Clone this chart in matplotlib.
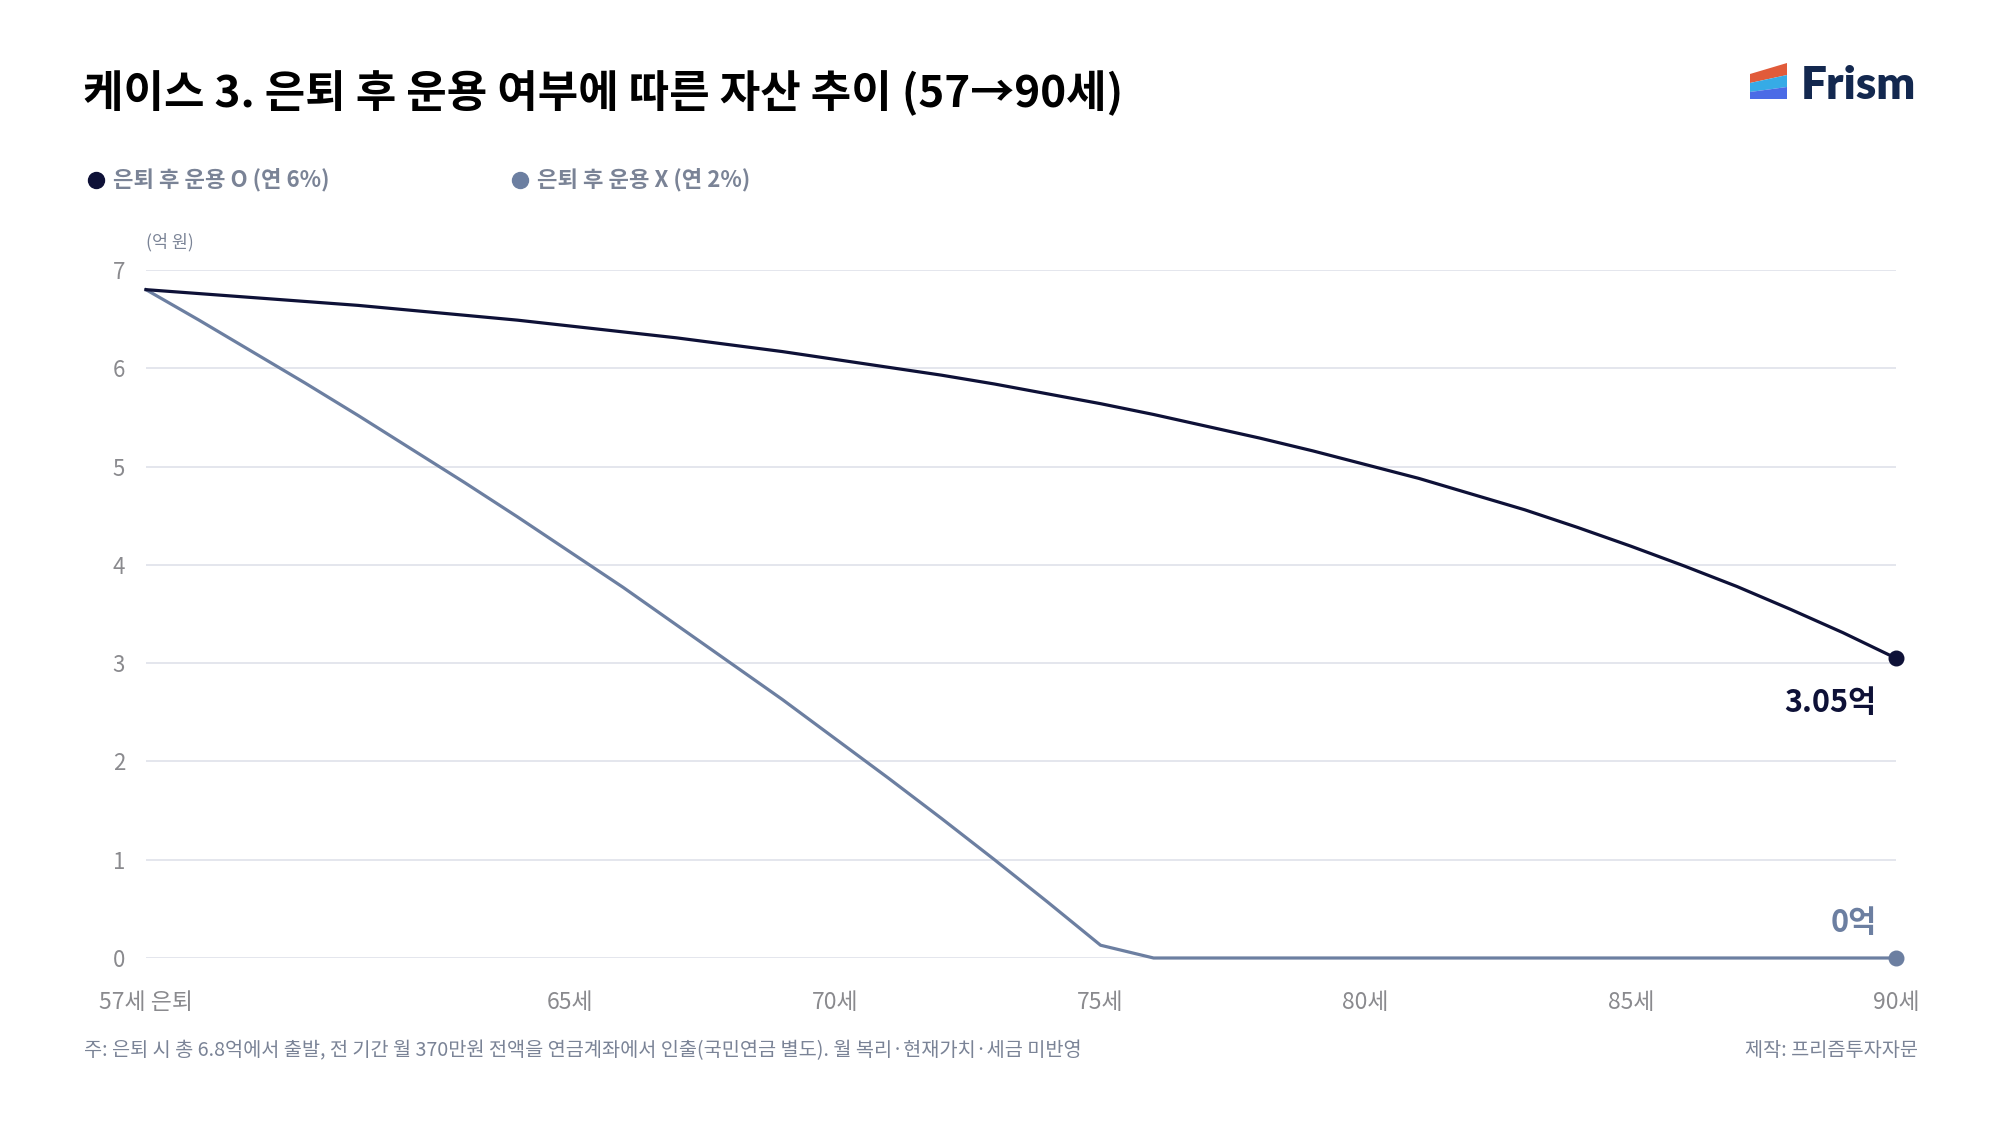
import matplotlib
matplotlib.use("Agg")
import matplotlib.pyplot as plt
from matplotlib.patches import Polygon
from matplotlib.lines import Line2D

plt.rcParams['font.family'] = ['Noto Sans CJK KR', 'DejaVu Sans']

# ---------------- data ----------------
ages = [57, 58, 59, 60, 61, 62, 63, 64, 65, 66, 67, 68, 69, 70, 71, 72, 73,
        74, 75, 76, 77, 78, 79, 80, 81, 82, 83, 84, 85, 86, 87, 88, 89, 90]
invest_o = [6.80, 6.76, 6.72, 6.68, 6.64, 6.59, 6.54, 6.49, 6.43, 6.37, 6.31,
            6.24, 6.17, 6.09, 6.01, 5.93, 5.84, 5.74, 5.64, 5.53, 5.41, 5.29,
            5.16, 5.02, 4.88, 4.72, 4.56, 4.38, 4.19, 3.99, 3.78, 3.55, 3.31, 3.05]
invest_x = [6.80, 6.49, 6.17, 5.85, 5.52, 5.18, 4.84, 4.49, 4.13, 3.77, 3.39,
            3.01, 2.63, 2.23, 1.83, 1.42, 1.00, 0.57, 0.13, 0.00, 0.00, 0.00,
            0.00, 0.00, 0.00, 0.00, 0.00, 0.00, 0.00, 0.00, 0.00, 0.00, 0.00, 0.00]
series_names = ['은퇴 후 운용 O (연 6%)', '은퇴 후 운용 X (연 2%)']
end_labels = ['3.05억', '0억']
xtick_vals = [57, 65, 70, 75, 80, 85, 90]
xtick_labels = ['57세 은퇴', '65세', '70세', '75세', '80세', '85세', '90세']
ytick_vals = [0, 1, 2, 3, 4, 5, 6, 7]

title = '케이스 3. 은퇴 후 운용 여부에 따른 자산 추이 (57→90세)'
unit_label = '(억 원)'
footnote = '주: 은퇴 시 총 6.8억에서 출발, 전 기간 월 370만원 전액을 연금계좌에서 인출(국민연금 별도). 월 복리·현재가치·세금 미반영'
credit = '제작: 프리즘투자자문'

# ---------------- style ----------------
C_DARK = '#0E1137'
C_SLATE = '#6C7FA1'
C_GRID = '#E2E4EC'
C_TICK = '#8A8A8E'
C_LEG = '#7A8396'

W, H = 2000, 1125
fig = plt.figure(figsize=(20, 11.25), dpi=100, facecolor='white')


def fx(x):
    return x / W


def fy(y):
    return 1 - y / H


ax_left, ax_right = 146, 1896
ax_top, ax_bottom = 270, 958
ax = fig.add_axes([fx(ax_left), fy(ax_bottom), (ax_right - ax_left) / W,
                   (ax_bottom - ax_top) / H])
ax.set_xlim(57, 90)
ax.set_ylim(0, 7)
for s in ax.spines.values():
    s.set_visible(False)
ax.set_yticks(ytick_vals)
ax.set_yticklabels([str(v) for v in ytick_vals], fontsize=16, color=C_TICK)
ax.set_xticks(xtick_vals)
ax.set_xticklabels(xtick_labels, fontsize=16.5, color=C_TICK)
ax.tick_params(axis='y', length=0, pad=15)
ax.tick_params(axis='x', length=0, pad=24)
ax.grid(axis='y', color=C_GRID, linewidth=1.3, zorder=0)
ax.grid(axis='x', visible=False)

ax.plot(ages, invest_x, color=C_SLATE, linewidth=2.3, zorder=3, clip_on=False,
        solid_joinstyle='round')
ax.plot(ages, invest_o, color=C_DARK, linewidth=2.3, zorder=4, clip_on=False,
        solid_joinstyle='round')
ax.plot([ages[-1]], [invest_o[-1]], 'o', color=C_DARK, markersize=10.5,
        zorder=5, clip_on=False)
ax.plot([ages[-1]], [invest_x[-1]], 'o', color=C_SLATE, markersize=10.5,
        zorder=5, clip_on=False)

ax.annotate(end_labels[0], xy=(ages[-1], invest_o[-1]), xytext=(-14, -32),
            textcoords='offset points', ha='right', va='center',
            fontsize=22, fontweight='bold', color=C_DARK)
ax.annotate(end_labels[1], xy=(ages[-1], invest_x[-1]), xytext=(-14, 25),
            textcoords='offset points', ha='right', va='center',
            fontsize=22, fontweight='bold', color=C_SLATE)

# title
fig.text(fx(83), fy(93), title, fontsize=31.7, fontweight='bold', color='#000000',
         ha='left', va='center')

# legend
leg_items = [(96, C_DARK, series_names[0]), (520, C_SLATE, series_names[1])]
for xc, col, name in leg_items:
    fig.add_artist(Line2D([fx(xc)], [fy(180)], marker='o', markersize=11.5,
                          color=col, linestyle='none', transform=fig.transFigure))
    fig.text(fx(xc + 17), fy(180), name, fontsize=16, fontweight='bold',
             color=C_LEG, ha='left', va='center')

# unit label
fig.text(fx(146), fy(242), unit_label, fontsize=12.5, color=C_LEG,
         ha='left', va='center')

# footnotes
fig.text(fx(84), fy(1051), footnote, fontsize=14.2, color=C_LEG,
         ha='left', va='center')
fig.text(fx(1918), fy(1051), credit, fontsize=14.2, color=C_LEG,
         ha='right', va='center')

# logo
logo_polys = [
    ('#E15B3A', [(1750, 74), (1787, 63), (1787, 75), (1750, 83)]),
    ('#36ABE6', [(1750, 83), (1787, 75), (1787, 87), (1750, 92)]),
    ('#4B6BE6', [(1750, 92), (1787, 87), (1787, 99), (1750, 99)]),
]
for col, pts in logo_polys:
    fig.add_artist(Polygon([(fx(x), fy(y)) for x, y in pts], closed=True,
                           facecolor=col, edgecolor='none',
                           transform=fig.transFigure))
fig.text(fx(1801), fy(99), 'Frism', fontsize=33, fontweight='heavy',
         family='Lato', color='#13284F', ha='left', va='baseline')

fig.savefig('out.png', dpi=100, facecolor='white')
